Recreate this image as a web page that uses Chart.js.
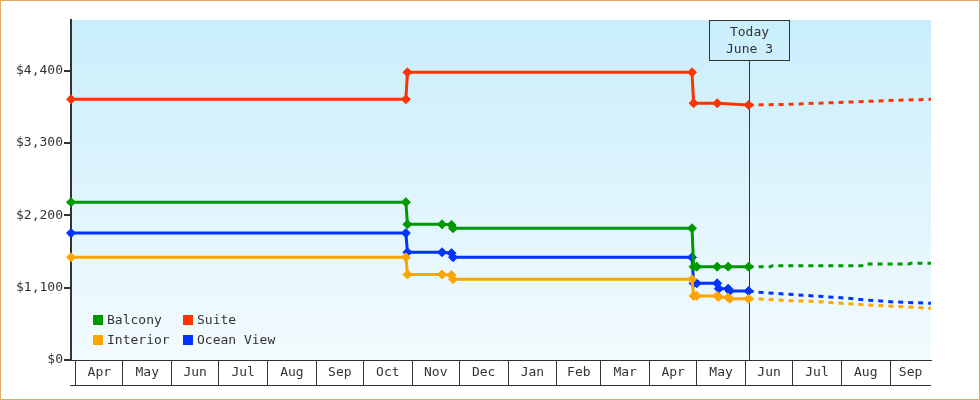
<!DOCTYPE html>
<html>
<head>
<meta charset="utf-8">
<script src="https://cdn.jsdelivr.net/npm/chart.js@4.4.1/dist/chart.umd.min.js"></script>
<style>
  body { margin: 0; background: #fff; }
  #frame { width: 980px; height: 400px; box-sizing: border-box; border: 1px solid #e6a864; }
  canvas { display: block; }
</style>
</head>
<body>
<div id="frame"><canvas id="fare-chart" width="978" height="398"></canvas></div>
<script>
// visible date range and "today" marker
var rangeStart = '2024-03-29';
var rangeEnd = '2025-09-27';
var todayDate = '2025-06-03';
var todayLabel = ['Today', 'June 3'];

// month boxes along the bottom
var monthStarts = ['2024-04-01', '2024-05-01', '2024-06-01', '2024-07-01', '2024-08-01', '2024-09-01',
  '2024-10-01', '2024-11-01', '2024-12-01', '2025-01-01', '2025-02-01', '2025-03-01',
  '2025-04-01', '2025-05-01', '2025-06-01', '2025-07-01', '2025-08-01', '2025-09-01'];
var monthNames = ['Apr', 'May', 'Jun', 'Jul', 'Aug', 'Sep', 'Oct', 'Nov', 'Dec',
  'Jan', 'Feb', 'Mar', 'Apr', 'May', 'Jun', 'Jul', 'Aug', 'Sep'];

var yTicks = [0, 1100, 2200, 3300, 4400];
var yMax = 5170;

// price history per cabin
var balconyDates = ['2024-03-29', '2024-10-28', '2024-10-29', '2024-11-20', '2024-11-26', '2024-11-27',
  '2025-04-28', '2025-04-29', '2025-05-01', '2025-05-14', '2025-05-21', '2025-06-03'];
var balconyPrices = [2400, 2400, 2063, 2063, 2055, 2003, 2003, 1419, 1419, 1419, 1419, 1419];

var suiteDates = ['2024-03-29', '2024-10-28', '2024-10-29', '2025-04-28', '2025-04-29', '2025-05-14', '2025-06-03'];
var suitePrices = [3965, 3965, 4375, 4375, 3905, 3905, 3878];

var interiorDates = ['2024-03-29', '2024-10-28', '2024-10-29', '2024-11-20', '2024-11-26', '2024-11-27',
  '2025-04-28', '2025-04-29', '2025-05-01', '2025-05-14', '2025-05-15', '2025-05-21', '2025-05-22', '2025-06-03'];
var interiorPrices = [1562, 1562, 1300, 1300, 1290, 1227, 1227, 975, 975, 975, 960, 950, 930, 930];

var oceanDates = ['2024-03-29', '2024-10-28', '2024-10-29', '2024-11-20', '2024-11-26', '2024-11-27',
  '2025-04-28', '2025-04-29', '2025-05-01', '2025-05-14', '2025-05-15', '2025-05-21', '2025-05-22', '2025-06-03'];
var oceanPrices = [1930, 1930, 1638, 1638, 1625, 1562, 1562, 1166, 1166, 1166, 1085, 1085, 1049, 1049];

// forecast (dashed) after today
var balconyFcDates = ['2025-06-03', '2025-06-17', '2025-06-18', '2025-08-14', '2025-08-15', '2025-09-13', '2025-09-14', '2025-09-27'];
var balconyFc = [1419, 1419, 1434, 1434, 1460, 1460, 1470, 1470];

var suiteFcDates = ['2025-06-03', '2025-06-29', '2025-07-15', '2025-08-03', '2025-08-19', '2025-09-04', '2025-09-27'];
var suiteFc = [3878, 3888, 3903, 3919, 3934, 3949, 3964];

var fcDates = ['2025-06-03', '2025-06-10', '2025-06-29', '2025-07-15', '2025-08-03', '2025-08-19', '2025-09-04', '2025-09-27'];
var interiorFc = [930, 928, 902, 890, 859, 836, 816, 786];
var oceanFc = [1049, 1029, 999, 973, 943, 908, 882, 862];

var colors = { balcony: '#009900', suite: '#ff3300', interior: '#ffa500', ocean: '#0033ff' };
var ink = '#333333';

Chart.defaults.font.family = '"DejaVu Sans Mono", monospace';
Chart.defaults.font.size = 13;
Chart.defaults.color = ink;

function day(s) {
  var p = s.split('-');
  return Date.UTC(+p[0], +p[1] - 1, +p[2]);
}

function points(dates, prices) {
  return dates.map((d, i) => ({ x: day(d), y: prices[i] }));
}

function series(label, color, dates, prices) {
  return {
    label: label, data: points(dates, prices),
    borderColor: color, backgroundColor: color, borderWidth: 3, tension: 0,
    pointStyle: 'rectRot', pointRadius: 4.5, pointHoverRadius: 4.5, pointBorderWidth: 1,
    clip: false
  };
}

function forecast(label, color, dates, prices) {
  return {
    label: label, forecast: true, data: points(dates, prices),
    borderColor: color, borderWidth: 3, borderDash: [5, 5], tension: 0,
    pointRadius: 0, pointHoverRadius: 0, clip: false
  };
}

// x ticks: month boundaries (lines) and month middles (labels)
var boundaries = new Set();
var labelAt = {};
var xTicks = [];
monthStarts.forEach((m, i) => {
  var a = day(m);
  var b = i + 1 < monthStarts.length ? day(monthStarts[i + 1]) : day(rangeEnd);
  var mid = (a + b) / 2;
  boundaries.add(a);
  labelAt[mid] = monthNames[i];
  xTicks.push({ value: a }, { value: mid });
});

// light blue gradient behind the plot
const plotBackground = {
  id: 'plotBackground',
  beforeDraw(chart) {
    const { ctx, chartArea: a } = chart;
    const g = ctx.createLinearGradient(0, a.top, 0, a.bottom);
    g.addColorStop(0, '#c9eefb');
    g.addColorStop(1, '#f3fbfe');
    ctx.save();
    ctx.fillStyle = g;
    ctx.fillRect(a.left, a.top, a.width, a.height);
    ctx.restore();
  }
};

// "Today" box with its vertical line
const todayMarker = {
  id: 'todayMarker',
  beforeDatasetsDraw(chart) {
    const { ctx, chartArea: a } = chart;
    const x = Math.round(chart.scales.x.getPixelForValue(day(todayDate))) + 0.5;
    ctx.save();
    ctx.strokeStyle = ink;
    ctx.lineWidth = 1;
    ctx.strokeRect(x - 40, a.top + 0.5, 80, 40);
    ctx.beginPath();
    ctx.moveTo(x, a.top + 40.5);
    ctx.lineTo(x, a.bottom);
    ctx.stroke();
    ctx.fillStyle = ink;
    ctx.font = Chart.defaults.font.size + 'px ' + Chart.defaults.font.family;
    ctx.textAlign = 'center';
    ctx.textBaseline = 'middle';
    ctx.fillText(todayLabel[0], x, a.top + 12.5);
    ctx.fillText(todayLabel[1], x, a.top + 30);
    ctx.restore();
  }
};

// two-column legend inside the plot, plus the line under the month boxes
const cabinLegend = {
  id: 'cabinLegend',
  afterDraw(chart) {
    const { ctx, chartArea: a } = chart;
    const xs = chart.scales.x;
    ctx.save();
    ctx.fillStyle = ink;
    ctx.fillRect(a.left - 1, xs.top + 25, a.width + 1, 1);
    ctx.font = Chart.defaults.font.size + 'px ' + Chart.defaults.font.family;
    ctx.textBaseline = 'middle';
    chart.data.datasets.filter(d => !d.forecast).forEach((d, i) => {
      const x = a.left + 22 + (i % 2) * 90;
      const y = a.bottom - 45 + Math.floor(i / 2) * 20;
      ctx.fillStyle = d.borderColor;
      ctx.fillRect(x, y, 10, 10);
      ctx.fillStyle = ink;
      ctx.fillText(d.label, x + 14, y + 5.5);
    });
    ctx.restore();
  }
};

window.onload = () => {
  var ctx = document.getElementById('fare-chart').getContext('2d');
  new Chart(ctx, {
    type: 'line',
    data: {
      datasets: [
        series('Balcony', colors.balcony, balconyDates, balconyPrices),
        series('Suite', colors.suite, suiteDates, suitePrices),
        series('Interior', colors.interior, interiorDates, interiorPrices),
        series('Ocean View', colors.ocean, oceanDates, oceanPrices),
        forecast('Balcony forecast', colors.balcony, balconyFcDates, balconyFc),
        forecast('Suite forecast', colors.suite, suiteFcDates, suiteFc),
        forecast('Interior forecast', colors.interior, fcDates, interiorFc),
        forecast('Ocean View forecast', colors.ocean, fcDates, oceanFc)
      ]
    },
    plugins: [plotBackground, todayMarker, cabinLegend],
    options: {
      responsive: false,
      animation: false,
      layout: { padding: { left: 0, top: 19, right: 48, bottom: 13 } },
      plugins: { legend: { display: false }, tooltip: { enabled: false } },
      scales: {
        x: {
          type: 'linear',
          min: day(rangeStart),
          max: day(rangeEnd),
          afterBuildTicks: s => { s.ticks = xTicks.map(t => ({ value: t.value })); },
          afterFit: s => { s.height = 26; },
          border: { display: true, color: ink, width: 1 },
          grid: {
            drawOnChartArea: false,
            tickLength: 25,
            lineWidth: 1,
            color: c => (c.tick && boundaries.has(c.tick.value)) ? ink : 'rgba(0,0,0,0)'
          },
          ticks: {
            autoSkip: false,
            maxRotation: 0,
            padding: -20,
            callback: v => labelAt[v] || ''
          }
        },
        y: {
          min: 0,
          max: yMax,
          afterBuildTicks: s => { s.ticks = yTicks.map(v => ({ value: v })); },
          afterFit: s => { s.width = 70; },
          border: { color: ink, width: 2 },
          grid: { drawOnChartArea: false, tickLength: 7, lineWidth: 2, color: ink },
          ticks: { padding: 1, callback: v => '$' + v.toLocaleString('en-US') }
        }
      }
    }
  });
};
</script>
</body>
</html>
